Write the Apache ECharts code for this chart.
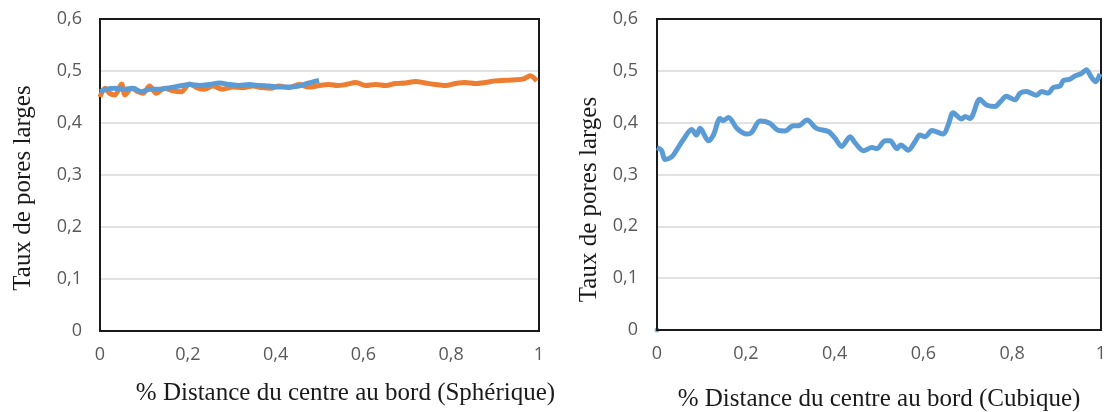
<!DOCTYPE html>
<html>
<head>
<meta charset="utf-8">
<script src="https://cdn.jsdelivr.net/npm/echarts@6/dist/echarts.min.js"></script>
<style>
  html, body { margin: 0; padding: 0; background: #fff; }
  #chart { width: 1109px; height: 412px; }
</style>
</head>
<body>
<div id="chart"></div>
<script>
// values
var yTicks = [0, 0.1, 0.2, 0.3, 0.4, 0.5, 0.6]
var xTicks = [0, 0.2, 0.4, 0.6, 0.8, 1]

// spherique - orange (whole radius)
var sphOrangeX = [0, 0.011, 0.022, 0.034, 0.049, 0.057, 0.072, 0.087, 0.098, 0.113, 0.128, 0.147, 0.166, 0.185, 0.204, 0.223, 0.238, 0.257, 0.279, 0.302, 0.325, 0.348, 0.370, 0.389, 0.408, 0.431, 0.453, 0.476, 0.499, 0.522, 0.541, 0.560, 0.583, 0.605, 0.628, 0.651, 0.673, 0.696, 0.719, 0.741, 0.764, 0.787, 0.810, 0.832, 0.855, 0.878, 0.900, 0.923, 0.946, 0.965, 0.980, 0.995]
var sphOrangeY = [0.450, 0.467, 0.457, 0.454, 0.475, 0.454, 0.467, 0.460, 0.457, 0.471, 0.457, 0.467, 0.462, 0.460, 0.475, 0.467, 0.465, 0.471, 0.465, 0.469, 0.468, 0.471, 0.468, 0.467, 0.471, 0.468, 0.474, 0.469, 0.472, 0.474, 0.472, 0.474, 0.478, 0.472, 0.474, 0.472, 0.476, 0.477, 0.480, 0.477, 0.474, 0.472, 0.476, 0.478, 0.476, 0.478, 0.481, 0.482, 0.483, 0.485, 0.491, 0.481]

// spherique - blue (first half)
var sphBlueX = [0, 0.015, 0.034, 0.053, 0.076, 0.094, 0.113, 0.136, 0.159, 0.181, 0.204, 0.227, 0.249, 0.272, 0.295, 0.317, 0.340, 0.363, 0.385, 0.408, 0.431, 0.453, 0.476, 0.499]
var sphBlueY = [0.460, 0.465, 0.467, 0.465, 0.467, 0.460, 0.465, 0.465, 0.468, 0.471, 0.474, 0.472, 0.474, 0.477, 0.474, 0.472, 0.474, 0.472, 0.471, 0.469, 0.469, 0.471, 0.477, 0.482]

// cubique - blue
var cubX = [0, 0.010, 0.018, 0.033, 0.044, 0.059, 0.078, 0.089, 0.097, 0.116, 0.127, 0.142, 0.149, 0.161, 0.180, 0.202, 0.213, 0.232, 0.254, 0.273, 0.288, 0.307, 0.318, 0.338, 0.359, 0.386, 0.401, 0.416, 0.435, 0.446, 0.465, 0.484, 0.495, 0.514, 0.525, 0.540, 0.549, 0.566, 0.581, 0.592, 0.604, 0.619, 0.645, 0.656, 0.667, 0.686, 0.694, 0.705, 0.727, 0.742, 0.761, 0.773, 0.787, 0.806, 0.818, 0.832, 0.855, 0.866, 0.881, 0.893, 0.908, 0.915, 0.930, 0.941, 0.956, 0.967, 0.978, 0.988, 0.998]
var cubY = [0.352, 0.347, 0.329, 0.334, 0.347, 0.367, 0.387, 0.376, 0.389, 0.365, 0.376, 0.408, 0.404, 0.410, 0.389, 0.378, 0.381, 0.403, 0.399, 0.385, 0.384, 0.394, 0.394, 0.405, 0.389, 0.383, 0.370, 0.354, 0.373, 0.361, 0.346, 0.352, 0.350, 0.365, 0.365, 0.350, 0.357, 0.347, 0.363, 0.376, 0.373, 0.385, 0.378, 0.396, 0.419, 0.407, 0.412, 0.408, 0.445, 0.434, 0.431, 0.440, 0.451, 0.444, 0.457, 0.460, 0.453, 0.460, 0.457, 0.468, 0.471, 0.481, 0.484, 0.490, 0.495, 0.502, 0.488, 0.479, 0.494]
var cubStray = [[0, 0]]

function zip(xs, ys) {
  return xs.map(function(x, i) { return [x, ys[i]] })
}
function fmt(v) {
  return String(v).replace('.', ',')
}

var blue = '#5B9BD5'
var orange = '#ED7D31'
var serif = '"Liberation Serif", "DejaVu Serif", serif'
var sans = '"Open Sans", "Liberation Sans", sans-serif'

function xAxis(idx, name, gap, pad) {
  return {
    gridIndex: idx,
    type: 'value',
    min: 0,
    max: 1,
    interval: 0.2,
    name: name,
    nameLocation: 'middle',
    nameGap: gap,
    nameTextStyle: { fontFamily: serif, fontSize: 25, color: '#1a1a1a', padding: pad },
    axisLine: { show: false },
    axisTick: { show: false },
    splitLine: { show: false },
    axisLabel: { margin: 15, fontFamily: sans, fontSize: 18, color: '#595959', formatter: fmt }
  }
}
function yAxis(idx, gap, pad, margin) {
  return {
    gridIndex: idx,
    type: 'value',
    min: 0,
    max: 0.6,
    interval: 0.1,
    name: 'Taux de pores larges',
    nameLocation: 'middle',
    nameGap: gap,
    nameTextStyle: { fontFamily: serif, fontSize: 25, color: '#1a1a1a', padding: pad },
    axisLine: { show: false },
    axisTick: { show: false },
    splitLine: { show: true, lineStyle: { color: '#d9d9d9', width: 1.5 } },
    axisLabel: { margin: margin, fontFamily: sans, fontSize: 18, color: '#595959', formatter: fmt }
  }
}
function line(xi, color, data) {
  return {
    type: 'line',
    xAxisIndex: xi,
    yAxisIndex: xi,
    data: data,
    showSymbol: false,
    smooth: 0.3,
    lineStyle: { color: color, width: 5 },
    itemStyle: { color: color },
    animation: false
  }
}

const myChart = echarts.init(document.getElementById('chart'))
var option = {
  backgroundColor: '#fff',
  grid: [
    { left: 100, right: 570, top: 19, bottom: 81, outerBoundsMode: 'none', z: 3, show: true, borderColor: '#1a1a1a', borderWidth: 2, backgroundColor: 'transparent' },
    { left: 657, right: 8, top: 19, bottom: 82, outerBoundsMode: 'none', z: 3, show: true, borderColor: '#1a1a1a', borderWidth: 2, backgroundColor: 'transparent' }
  ],
  xAxis: [
    xAxis(0, '% Distance du centre au bord (Sphérique)', 50, [0, 0, 0, 52]),
    xAxis(1, '% Distance du centre au bord (Cubique)', 57, [0, 0, 0, 0])
  ],
  yAxis: [
    yAxis(0, 64, [0, 26, 0, 0], 18),
    yAxis(1, 55, [0, 50, 0, 0], 19)
  ],
  series: [
    line(0, orange, zip(sphOrangeX, sphOrangeY)),
    line(0, blue, zip(sphBlueX, sphBlueY)),
    line(1, blue, zip(cubX, cubY)),
    {
      type: 'scatter',
      xAxisIndex: 1,
      yAxisIndex: 1,
      data: cubStray,
      symbolSize: 5,
      itemStyle: { color: blue },
      animation: false
    }
  ]
}
myChart.setOption(option)

window.onresize = function() {
  myChart.resize()
}
</script>
</body>
</html>
